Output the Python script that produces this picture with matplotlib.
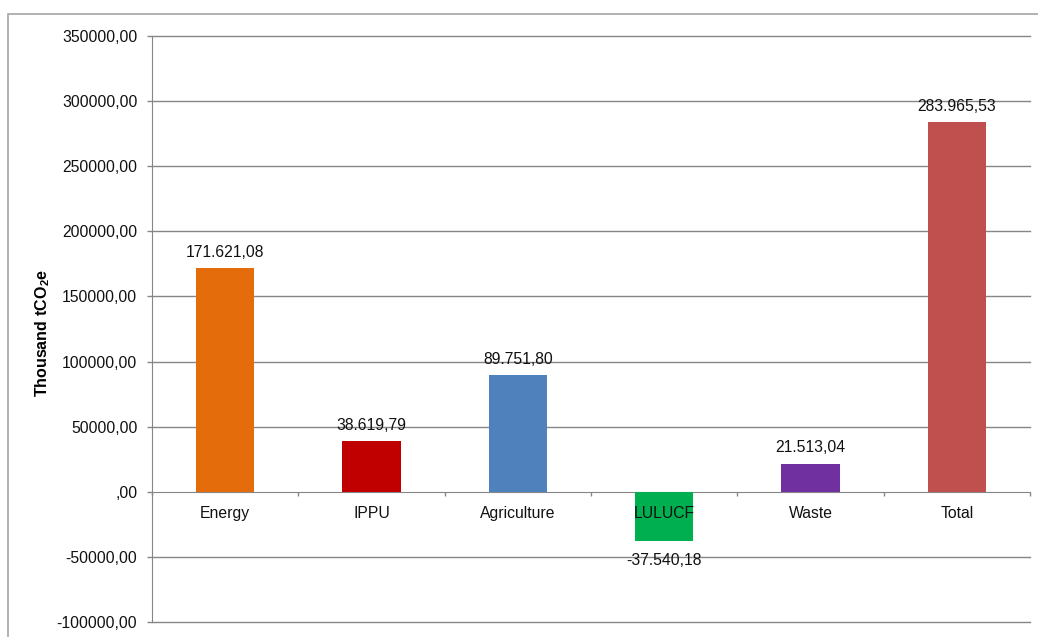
import matplotlib
matplotlib.use("Agg")
import matplotlib.pyplot as plt
from matplotlib.patches import Rectangle
import numpy as np

# Emissions by sector (thousand tCO2e)
categories = ["Energy", "IPPU", "Agriculture", "LULUCF", "Waste", "Total"]
values = [171621.08, 38619.79, 89751.80, -37540.18, 21513.04, 283965.53]
colors = ["#E46C0A", "#C00000", "#4F81BD", "#00B050", "#7030A0", "#C0504D"]
y_ticks = [-100000, -50000, 0, 50000, 100000, 150000, 200000, 250000, 300000, 350000]

plt.rcParams["font.family"] = ["Liberation Sans", "DejaVu Sans"]
plt.rcParams["mathtext.fontset"] = "custom"
plt.rcParams["mathtext.rm"] = "Liberation Sans"
plt.rcParams["mathtext.bf"] = "Liberation Sans:bold"


def fmt_value(v):
    s = f"{v:,.2f}"
    return s.replace(",", "X").replace(".", ",").replace("X", ".")


def fmt_tick(v):
    if v == 0:
        return ",00"
    return f"{v:.2f}".replace(".", ",")


W, H = 1038, 637
fig = plt.figure(figsize=(W / 100, H / 100), dpi=100)

# outer chart-area frame
fig.patches.append(Rectangle((8 / W, -0.1), 1.2, 1 - 14 / H + 0.1,
                             transform=fig.transFigure, fill=False,
                             edgecolor="#A6A6A6", linewidth=1.2))

ax = fig.add_axes([152 / W, 1 - 622 / H, (1030 - 152) / W, (622 - 36) / H])

grid_color = "#868686"
text_color = "#111111"
x = np.arange(len(categories))
bars = ax.bar(x, values, width=0.40, color=colors, zorder=3)

ax.set_xlim(-0.5, len(categories) - 0.5)
ax.set_ylim(-100000, 350000)
ax.set_yticks(y_ticks)
ax.set_yticklabels([fmt_tick(v) for v in y_ticks], fontsize=11.3, color=text_color)
ax.tick_params(axis="y", direction="out", length=3.6, width=1, color=grid_color, pad=7)

for v in y_ticks:
    if v != 0:
        ax.axhline(v, color=grid_color, linewidth=1, zorder=1, clip_on=False)

for side in ["top", "right"]:
    ax.spines[side].set_visible(False)
ax.spines["left"].set_color(grid_color)
ax.spines["bottom"].set_color(grid_color)
ax.spines["bottom"].set_position(("data", 0))
ax.spines["bottom"].set_zorder(2)

# boundary ticks between categories
ax.set_xticks(np.arange(-0.5, len(categories), 1.0))
ax.set_xticklabels([])
ax.tick_params(axis="x", which="major", direction="out", length=3, width=1, color=grid_color)

# category names just below the zero line, drawn above the bars
for xi, name in zip(x, categories):
    ax.annotate(name, (xi, 0), xytext=(0, -10),
                textcoords="offset points", ha="center", va="top",
                fontsize=11.3, color=text_color, zorder=6)

for xi, v in zip(x, values):
    if v >= 0:
        ax.annotate(fmt_value(v), (xi, v), xytext=(0, 6), textcoords="offset points",
                    ha="center", va="bottom", fontsize=11.3, color=text_color, zorder=6)
    else:
        ax.annotate(fmt_value(v), (xi, v), xytext=(0, -9), textcoords="offset points",
                    ha="center", va="top", fontsize=11.3, color=text_color, zorder=6)

ax.set_ylabel(r"$\mathbf{Thousand\ tCO_2e}$", fontsize=11.5)
ax.yaxis.set_label_coords(-0.114, 0.493)

fig.savefig("out.png", dpi=100)
